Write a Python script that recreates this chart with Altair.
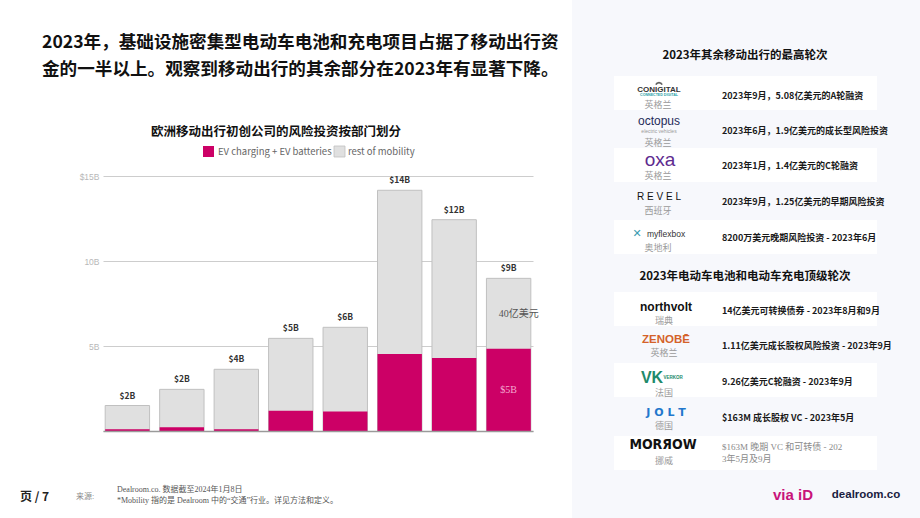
import altair as alt
import pandas as pd

# ---------------- data ----------------
years = ["2016", "2017", "2018", "2019", "2020", "2021", "2022", "2023"]
total_b = [1.5, 2.45, 3.63, 5.45, 6.1, 14.16, 12.43, 8.98]
ev_b = [0.1, 0.22, 0.1, 1.19, 1.15, 4.53, 4.29, 4.84]
top_labels = ["$2B", "$2B", "$4B", "$5B", "$6B", "$14B", "$12B", "$9B"]
rest_note = ["", "", "", "", "", "", "", "40亿美元"]
ev_note = ["", "", "", "", "", "", "", "$5B"]

series_names = ["EV charging + EV batteries", "rest of mobility"]
series_colors = ["#cc0066", "#e0e0e0"]

headline = ["2023年，基础设施密集型电动车电池和充电项目占据了移动出行资",
            "金的一半以上。观察到移动出行的其余部分在2023年有显著下降。"]
chart_title = "欧洲移动出行初创公司的风险投资按部门划分"

p1_title = "2023年其余移动出行的最高轮次"
p1_countries = ["英格兰", "英格兰", "英格兰", "西班牙", "奥地利"]
p1_desc = ["2023年9月，5.08亿美元的A轮融资",
           "2023年6月，1.9亿美元的成长型风险投资",
           "2023年1月，1.4亿美元的C轮融资",
           "2023年9月，1.25亿美元的早期风险投资",
           "8200万美元晚期风险投资 - 2023年6月"]

p2_title = "2023年电动车电池和电动车充电顶级轮次"
p2_countries = ["瑞典", "英格兰", "法国", "德国", "挪威"]
p2_desc = ["14亿美元可转换债券 - 2023年8月和9月",
           "1.11亿美元成长股权风险投资 - 2023年9月",
           "9.26亿美元C轮融资 - 2023年9月",
           "$163M 成长股权 VC - 2023年5月"]
p2_desc_last = ["$163M 晚期 VC 和可转债 - 202", "3年5月及9月"]

footer_page = "页 / 7"
footer_src = "来源:"
footer_lines = ["Dealroom.co. 数据截至2024年1月8日",
                "*Mobility 指的是 Dealroom 中的“交通”行业。详见方法和定义。"]

# ---------------- layout ----------------
SANS = "Noto Sans CJK SC, Noto Sans, sans-serif"
SERIF = "Liberation Serif, Noto Sans CJK SC, serif"
LOGO = "Liberation Sans, DejaVu Sans, sans-serif"

L, T = 103, 176           # plot origin on the page
W, H = 430, 255           # plot size
R, B = 920 - L - W, 518 - T - H


def X(px):
    return px - L


def Y(py):
    return py - T


one = pd.DataFrame({"k": [0]})


def txt(s, x, y, size, color="#111", weight="normal", font=SANS, align="left",
        baseline="middle", **kw):
    return alt.Chart(one).mark_text(
        text=s, fontSize=size, color=color, fontWeight=weight, font=font,
        align=align, baseline=baseline, **kw
    ).encode(x=alt.value(X(x)), y=alt.value(Y(y)))


def box(x0, y0, x1, y1, color, **kw):
    return alt.Chart(one).mark_rect(color=color, **kw).encode(
        x=alt.value(X(x0)), x2=alt.value(X(x1)),
        y=alt.value(Y(y0)), y2=alt.value(Y(y1)))


layers = []

# right panel background
layers.append(box(572, 0, 920, 518, "#f7f8fc"))
p1_tops = [76, 112, 148, 184, 220]
p2_tops = [292, 328, 363, 400, 436]
for i in (0, 2, 4):
    layers.append(box(614, p1_tops[i], 877, p1_tops[i] + 34, "#ffffff"))
    layers.append(box(614, p2_tops[i], 877, p2_tops[i] + 34, "#ffffff"))

# ---------------- bar chart ----------------
df = pd.DataFrame({"year": years, "total": total_b, "ev": ev_b,
                   "label": top_labels, "rnote": rest_note, "enote": ev_note})
base = alt.Chart(df)
xenc = alt.X("year:N", sort=years,
             scale=alt.Scale(paddingInner=0.185, paddingOuter=0.04),
             axis=alt.Axis(labels=False, ticks=False, title=None,
                           domainColor="#9a9a9a", domainWidth=1.5, zindex=1))
yenc = alt.Y("total:Q", scale=alt.Scale(domain=[0, 15], nice=False),
             axis=alt.Axis(values=[0, 5, 10, 15],
                           labelExpr="datum.value == 15 ? '$15B' : datum.value == 0 ? '' : datum.value + 'B'",
                           grid=True, gridColor="#cdcdcd", gridWidth=1,
                           domain=False, ticks=False, title=None,
                           labelColor="#b8b8b8", labelFontSize=8.5, labelPadding=4,
                           labelFont=LOGO))

gray_bars = base.mark_bar(color=series_colors[1], stroke="#c0c0c0", strokeWidth=1).encode(x=xenc, y=yenc)
ev_bars = base.mark_bar(color=series_colors[0]).encode(x=alt.X("year:N", sort=years), y=alt.Y("ev:Q"))
tops = base.mark_text(baseline="bottom", dy=-5, fontWeight="bold", fontSize=8.5,
                      color="#333", font=SANS).encode(
    x=alt.X("year:N", sort=years), y=alt.Y("total:Q"), text="label:N")
rnote = base.transform_calculate(mid="(datum.ev + datum.total) / 2").mark_text(
    align="left", dx=-10, fontSize=10, color="#555", font=SERIF, baseline="middle"
).encode(x=alt.X("year:N", sort=years), y=alt.Y("mid:Q"), text="rnote:N")
enote = base.transform_calculate(mid="datum.ev / 2").mark_text(
    align="center", fontSize=10, color="#f4a8cf", font=SERIF, baseline="middle"
).encode(x=alt.X("year:N", sort=years), y=alt.Y("mid:Q"), text="enote:N")

layers += [gray_bars, ev_bars, tops, rnote, enote]

# chart title + legend
layers.append(txt(chart_title, 276, 132, 12.5, weight="bold", align="center"))
layers.append(box(203, 146, 214, 157, series_colors[0]))
layers.append(txt(series_names[0], 218, 151.5, 9.5, color="#666", font=SANS))
layers.append(box(334, 146, 345, 157, series_colors[1], stroke="#c0c0c0", strokeWidth=0.8))
layers.append(txt(series_names[1], 348, 151.5, 9.5, color="#666", font=SANS))

# headline
layers.append(txt(headline[0], 42, 43, 17.6, weight="bold"))
layers.append(txt(headline[1], 42, 70, 17.6, weight="bold"))

# ---------------- right panel 1 ----------------
layers.append(txt(p1_title, 745, 56, 11.5, weight="bold", align="center"))
p1_cty_y = [104.5, 143, 176, 211, 247.5]
p1_desc_y = [96, 131, 166, 202, 237.5]
for i in range(5):
    layers.append(txt(p1_countries[i], 658, p1_cty_y[i], 9, color="#9a9a9a", align="center"))
    layers.append(txt(p1_desc[i], 722, p1_desc_y[i], 9, weight="bold", color="#1a1a1a"))

# logos (as text)
layers.append(alt.Chart(one).mark_point(shape="M-1,0.35A1.1,1.1 0 0 1 1,0.35", size=40,
                                        filled=False, stroke="#222", strokeWidth=1.6).encode(
    x=alt.value(X(659)), y=alt.value(Y(83.5))))
layers.append(txt("CONIGITAL", 659, 89.5, 8, color="#333", weight="bold", font=LOGO, align="center"))
layers.append(txt("CONNECTED DIGITAL", 659, 94.5, 3.6, color="#2aa0a8", weight="bold", font=LOGO, align="center"))
layers.append(txt("octopus", 659, 121, 12, color="#1f2b5a", font=LOGO, align="center"))
layers.append(txt("electric vehicles", 659, 130.5, 5, color="#999", font=LOGO, align="center"))
layers.append(txt("oxa", 660, 159.5, 19, color="#5e2a8f", font=LOGO, align="center"))
layers.append(txt("R E V E L", 659, 197, 10, color="#111", font=LOGO, align="center"))
layers.append(txt("✕", 637, 234, 11, color="#3a9bb0", weight="bold", font="DejaVu Sans", align="center"))
layers.append(txt("myflexbox", 666, 234, 8.5, color="#333", font=LOGO, align="center"))

# ---------------- right panel 2 ----------------
layers.append(txt(p2_title, 745, 277, 11.5, weight="bold", align="center"))
p2_cty_y = [321, 353, 393, 426, 461]
p2_desc_y = [311, 346, 382, 418]
for i in range(5):
    layers.append(txt(p2_countries[i], 664, p2_cty_y[i], 9, color="#9a9a9a", align="center"))
for i in range(4):
    layers.append(txt(p2_desc[i], 722, p2_desc_y[i], 9, weight="bold", color="#1a1a1a"))
layers.append(txt(p2_desc_last[0], 722, 447, 9, color="#8a8a8a", font=SERIF))
layers.append(txt(p2_desc_last[1], 722, 459, 9, color="#8a8a8a", font=SERIF))

layers.append(txt("northvolt", 666, 307, 12, color="#111", weight="bold", font=LOGO, align="center"))
layers.append(txt("ZENOBĒ", 666, 340, 11.5, color="#d4622a", weight="bold", font=LOGO, align="center"))
layers.append(txt("VK", 652, 378, 16, color="#1e8a6a", weight="bold", font=LOGO, align="center"))
layers.append(txt("VERKOR", 673, 378, 4.5, color="#1e8a6a", weight="bold", font=LOGO, align="center"))
layers.append(txt("J O L T", 666, 412.5, 11, color="#2277cc", weight="bold", font="DejaVu Sans", align="center"))
layers.append(txt("MORЯOW", 663, 445, 14, color="#111", weight="bold",
                  font="Liberation Sans Narrow, DejaVu Sans Condensed, DejaVu Sans", align="center"))

# ---------------- footer ----------------
layers.append(txt(footer_page, 20, 497, 12, weight="bold", color="#222"))
layers.append(txt(footer_src, 76, 497, 8, color="#888", font=SERIF))
layers.append(txt(footer_lines[0], 117, 490, 8, color="#555", font=SERIF))
layers.append(txt(footer_lines[1], 117, 501, 8, color="#555", font=SERIF))
layers.append(txt("via iD", 793, 495, 15, color="#c8137a", weight="bold", font=LOGO, align="center"))
layers.append(txt("dealroom.co", 866, 495, 11.5, color="#1a2040", weight="bold", font=LOGO, align="center"))

chart = alt.layer(*layers).properties(
    width=W, height=H,
    autosize=alt.AutoSizeParams(type="none"),
    padding={"left": L, "top": T, "right": R, "bottom": B},
    background="#ffffff",
).configure_view(stroke=None)

chart.save("out.html", embed_options={"renderer": "svg", "actions": False})
